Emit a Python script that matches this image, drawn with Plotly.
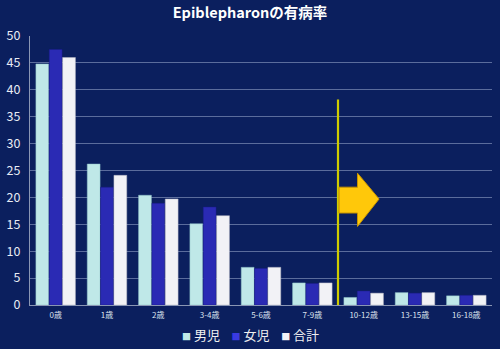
import plotly.graph_objects as go

categories = ["0歳", "1歳", "2歳", "3-4歳", "5-6歳", "7-9歳", "10-12歳", "13-15歳", "16-18歳"]
boys = [44.8, 26.2, 20.4, 15.1, 7.0, 4.1, 1.4, 2.3, 1.7]
girls = [47.5, 21.9, 18.9, 18.2, 6.8, 4.0, 2.6, 2.2, 1.8]
total = [46.0, 24.1, 19.7, 16.6, 7.0, 4.1, 2.2, 2.3, 1.8]
series_names = ["男児", "女児", "合計"]
y_ticks = [0, 5, 10, 15, 20, 25, 30, 35, 40, 45, 50]
title_text = "Epiblepharonの有病率"

font_family = "Noto Sans CJK JP, Noto Sans, sans-serif"
bg = "#0b1f5e"

fig = go.Figure()
colors = ["#bfe8e8", "#2a2ab4", "#f2f2f6"]
line_colors = ["#8fc4c8", "#1c1c8a", "#b8b8c4"]
for name, vals, c, lc in zip(series_names, [boys, girls, total], colors, line_colors):
    fig.add_trace(go.Bar(
        x=categories, y=vals, name=name, showlegend=False,
        marker=dict(color=c, line=dict(color=lc, width=0.5)),
    ))

# legend drawn as a compact text line (small coloured squares + names)
legend_parts = [
    f"<span style='color:{c};font-size:9px'>■</span>&nbsp;{n}"
    for n, c in zip(series_names, ["#bfe8e8", "#3a3ae0", "#f2f2f6"])
]
fig.add_annotation(text="&nbsp;&nbsp;&nbsp;&nbsp;".join(legend_parts), xref="paper", yref="paper",
                   x=0.478, y=-0.108, xanchor="center", yanchor="middle", showarrow=False,
                   font=dict(family=font_family, size=13, color="#f0f0f0"))

# yellow divider between 7-9 and 10-12
fig.add_shape(type="line", xref="x", yref="y", x0=5.5, x1=5.5, y0=0, y1=38.2,
              line=dict(color="#cfcc00", width=2.2), layer="above")
# block arrow
ax0, axb, axt = 5.52, 5.88, 6.3
ys_top, ys_bot, yh_top, yh_bot, ytip = 21.9, 17.1, 24.5, 14.6, 19.7
path = (f"M {ax0},{ys_bot} L {ax0},{ys_top} L {axb},{ys_top} L {axb},{yh_top} "
        f"L {axt},{ytip} L {axb},{yh_bot} L {axb},{ys_bot} Z")
fig.add_shape(type="path", xref="x", yref="y", path=path,
              fillcolor="#ffc80a", line=dict(color="#c89400", width=1), layer="above")

fig.update_layout(
    width=500, height=349,
    paper_bgcolor=bg, plot_bgcolor=bg,
    margin=dict(l=30, r=8, t=36, b=44),
    title=dict(text=f"<b>{title_text}</b>", x=0.5, xanchor="center", y=0.962, yanchor="middle",
               font=dict(family=font_family, size=14.5, color="#ffffff")),
    barmode="group", bargap=0.22, bargroupgap=0.04,
    font=dict(family=font_family, color="#e8ecf4"),
    showlegend=False,
    xaxis=dict(showgrid=False, showline=True, linecolor="#8a96b4", linewidth=1,
               ticks="", tickfont=dict(size=8, color="#dde3ef"), ticklabelstandoff=2,
               fixedrange=True),
    yaxis=dict(range=[0, 50], tickvals=y_ticks, showgrid=True, gridcolor="#5b6c9c",
               gridwidth=1, zeroline=False, showline=True, linecolor="#8a96b4",
               tickfont=dict(size=12.5, color="#e8ecf4"), ticks="", ticklabelstandoff=6),
)

fig.write_html("out.html")
